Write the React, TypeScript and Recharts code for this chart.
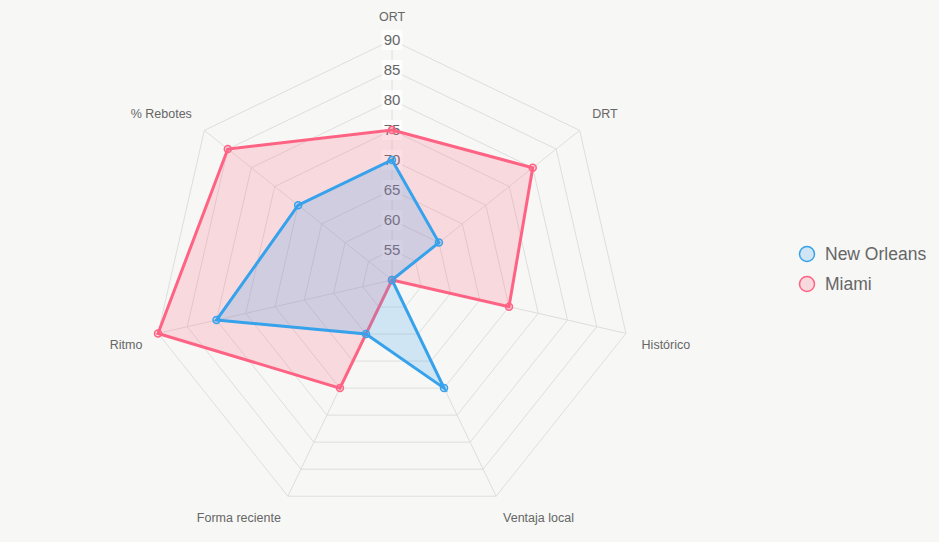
import React from "react";
import {
  RadarChart,
  Radar,
  PolarGrid,
  PolarAngleAxis,
  PolarRadiusAxis,
} from "recharts";

// Axes, clockwise from the top
const CATEGORIES = [
  "ORT",
  "DRT",
  "Histórico",
  "Ventaja local",
  "Forma reciente",
  "Ritmo",
  "% Rebotes",
];

const NEW_ORLEANS = [70, 60, 50, 70, 60, 80, 70];
const MIAMI = [75, 80, 70, 50, 70, 90, 85];

const RADIUS_TICKS = [55, 60, 65, 70, 75, 80, 85, 90];
const RADIUS_DOMAIN: [number, number] = [50, 90];

const SERIES = [
  { key: "New Orleans", color: "rgb(54, 162, 235)", fill: "rgba(54, 162, 235, 0.2)" },
  { key: "Miami", color: "rgb(255, 99, 132)", fill: "rgba(255, 99, 132, 0.2)" },
];

const chartData = CATEGORIES.map((name, i) => ({
  name,
  "New Orleans": NEW_ORLEANS[i],
  Miami: MIAMI[i],
}));

const BG = "#f7f7f5";
const TEXT = "#666";
const GRID = "#dedede";

// point labels sit past the outer ring; upper ones rest on it, lower ones hang from it
function AngleTick(props: any) {
  const { x, y, payload } = props;
  const rad = (-payload.coordinate * Math.PI) / 180;
  const cos = Math.cos(rad);
  const sin = Math.sin(rad);
  const px = x + 8 * cos;
  const py = y + 8 * sin;
  const anchor = Math.abs(cos) < 0.01 ? "middle" : cos > 0 ? "start" : "end";
  const h = 14.4;
  const mid = sin < -0.01 ? py - h / 2 : sin > 0.01 ? py + h / 2 : py;
  return (
    <text
      x={px}
      y={mid}
      dy="0.35em"
      textAnchor={anchor}
      fontSize={12.5}
      fill={TEXT}
      fontFamily="Arial, 'Liberation Sans', sans-serif"
    >
      {payload.value}
    </text>
  );
}

function RadiusTick(props: any) {
  const { x, y, payload } = props;
  const label = String(payload.value);
  const w = label.length * 8.4 + 4;
  return (
    <g>
      <rect x={x - w / 2} y={y - 10} width={w} height={20} fill="rgba(255,255,255,0.75)" />
      <text
        x={x}
        y={y}
        dy="0.35em"
        textAnchor="middle"
        fontSize={15}
        fill={TEXT}
        fontFamily="Arial, 'Liberation Sans', sans-serif"
      >
        {label}
      </text>
    </g>
  );
}

function makeDot(color: string, fill: string) {
  return (props: any) => {
    const { cx, cy, index } = props;
    return (
      <circle
        key={`dot-${index}`}
        cx={cx}
        cy={cy}
        r={3.5}
        fill={fill}
        stroke={color}
        strokeWidth={1.5}
      />
    );
  };
}

function LegendBox() {
  return (
    <div style={{ position: "absolute", left: 797, top: 239 }}>
      {SERIES.map((s) => (
        <div key={s.key} style={{ display: "flex", alignItems: "center", height: 30 }}>
          <svg width={20} height={20} style={{ marginRight: 8 }}>
            <circle cx={10} cy={10} r={7.5} fill={s.fill} stroke={s.color} strokeWidth={1.5} />
          </svg>
          <span
            style={{
              fontFamily: "Arial, 'Liberation Sans', sans-serif",
              fontSize: 17.5,
              color: TEXT,
            }}
          >
            {s.key}
          </span>
        </div>
      ))}
    </div>
  );
}

export default function App() {
  return (
    <div style={{ position: "relative", width: 939, height: 542, background: BG }}>
      <style>{`body{margin:0;background:${BG}}`}</style>
      <RadarChart
        width={939}
        height={542}
        data={chartData}
        cx={392}
        cy={280}
        outerRadius={240}
        margin={{ top: 0, right: 0, bottom: 0, left: 0 }}
      >
        <PolarGrid gridType="polygon" stroke={GRID} />
        <PolarAngleAxis dataKey="name" tick={<AngleTick />} axisLine={false} tickLine={false} />
        {/* tick labels stay beneath the series */}
        <PolarRadiusAxis
          angle={90}
          domain={RADIUS_DOMAIN}
          ticks={RADIUS_TICKS as any}
          tick={<RadiusTick />}
          axisLine={false}
          tickLine={false}
          tickCount={9}
          {...({ zIndex: 50 } as any)}
        />
        {/* Miami under New Orleans */}
        {[...SERIES].reverse().map((s) => (
          <Radar
            key={s.key}
            name={s.key}
            dataKey={s.key}
            stroke={s.color}
            strokeWidth={3}
            fill={s.fill}
            fillOpacity={1}
            dot={makeDot(s.color, s.fill)}
            isAnimationActive={false}
          />
        ))}
      </RadarChart>
      <LegendBox />
    </div>
  );
}
